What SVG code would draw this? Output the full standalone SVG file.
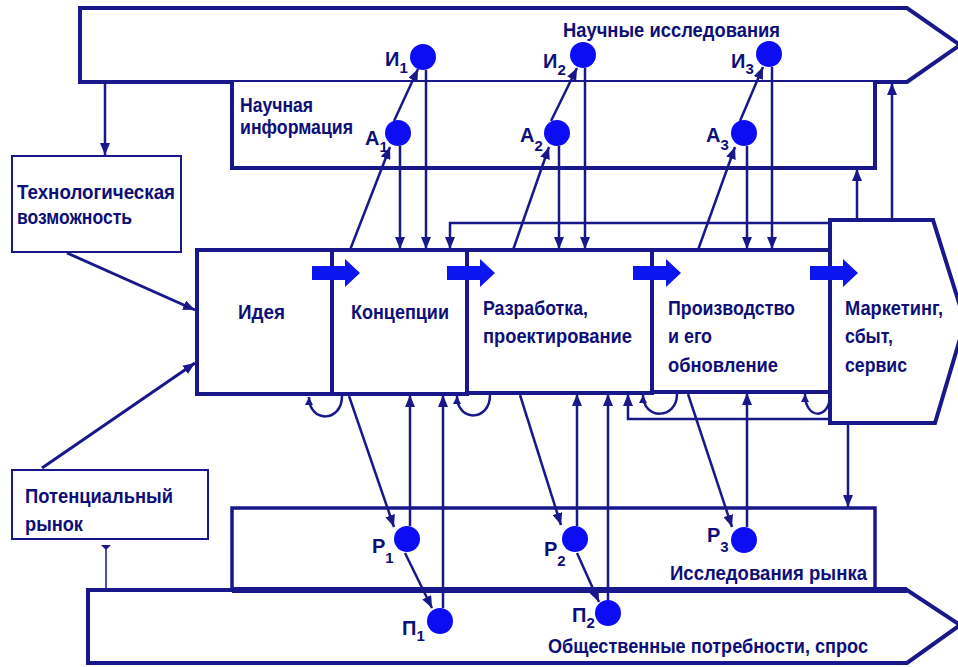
<svg xmlns="http://www.w3.org/2000/svg" width="958" height="667" viewBox="0 0 958 667">
<style>
.t{font-family:"Liberation Sans",Arial,sans-serif;font-weight:bold;font-size:20px;fill:#0e0e78}
.s{font-size:15px}
.box{fill:#fff;stroke:#18188a;stroke-width:4}
.thin{fill:#fff;stroke:#18188a;stroke-width:2}
.c{fill:none;stroke:#18188a;stroke-width:2.5}
.dot{fill:#0c0cf5}
.ba{fill:#0c14f0}
</style>
<defs>
<marker id="ah" markerUnits="userSpaceOnUse" markerWidth="12" markerHeight="10" refX="12" refY="5" orient="auto">
<path d="M0,0 L12,5 L0,10 z" fill="#18188a"/>
</marker>
<marker id="sh" markerUnits="userSpaceOnUse" markerWidth="8" markerHeight="8" refX="8" refY="4" orient="auto">
<path d="M0,0 L8,4 L0,8 z" fill="#18188a"/>
</marker>
</defs>
<rect width="958" height="667" fill="#fff"/>

<g id="science-research">
<path class="box" d="M80,8 L907,8 L960,45 L907,82 L80,82 Z"/>
<text class="t" x="563" y="37" textLength="217" lengthAdjust="spacingAndGlyphs">Научные исследования</text>
</g>
<g id="science-info">
<path class="box" d="M232,82 L232,168 L875,168 L875,82" fill="none"/>
<text class="t" x="240" y="112" textLength="73" lengthAdjust="spacingAndGlyphs">Научная</text>
<text class="t" x="240" y="134" textLength="113" lengthAdjust="spacingAndGlyphs">информация</text>
</g>
<g id="market-research">
<rect class="box" x="232" y="508" width="643" height="83" style="stroke-width:3.5"/>
<text class="t" x="670" y="580" textLength="197" lengthAdjust="spacingAndGlyphs">Исследования рынка</text>
</g>
<g id="social-needs">
<path class="box" d="M88,590 L907,590 L960,625 L907,663 L88,663 Z"/>
<line x1="232" y1="590" x2="907" y2="590" stroke="#18188a" stroke-width="6"/>
<text class="t" x="548" y="653" textLength="320" lengthAdjust="spacingAndGlyphs">Общественные потребности, спрос</text>
</g>
<g id="tech">
<rect class="thin" x="12" y="156" width="169" height="96"/>
<text class="t" x="17" y="199" textLength="158" lengthAdjust="spacingAndGlyphs">Технологическая</text>
<text class="t" x="17" y="224" textLength="115" lengthAdjust="spacingAndGlyphs">возможность</text>
</g>
<g id="potential">
<rect class="thin" x="12" y="470" width="196" height="69"/>
<text class="t" x="25" y="503" textLength="148" lengthAdjust="spacingAndGlyphs">Потенциальный</text>
<text class="t" x="25" y="531" textLength="58" lengthAdjust="spacingAndGlyphs">рынок</text>
</g>
<g id="idea">
<rect class="box" x="197" y="250" width="135" height="144"/>
<text class="t" x="238" y="319" textLength="47" lengthAdjust="spacingAndGlyphs">Идея</text>
</g>
<g id="concept">
<rect class="box" x="332" y="250" width="135" height="144"/>
<text class="t" x="351" y="319" textLength="98" lengthAdjust="spacingAndGlyphs">Концепции</text>
</g>
<g id="design">
<rect class="box" x="467" y="250" width="185" height="143"/>
<text class="t" x="483" y="315" textLength="105" lengthAdjust="spacingAndGlyphs">Разработка,</text>
<text class="t" x="483" y="343" textLength="149" lengthAdjust="spacingAndGlyphs">проектирование</text>
</g>
<g id="production">
<rect class="box" x="652" y="250" width="178" height="142"/>
<text class="t" x="668" y="315" textLength="127" lengthAdjust="spacingAndGlyphs">Производство</text>
<text class="t" x="668" y="343" textLength="44" lengthAdjust="spacingAndGlyphs">и его</text>
<text class="t" x="668" y="372" textLength="110" lengthAdjust="spacingAndGlyphs">обновление</text>
</g>
<g id="marketing">
<path class="box" d="M830,220 L933,220 L965,322 L935,423 L830,423 Z"/>
<text class="t" x="845" y="315" textLength="98" lengthAdjust="spacingAndGlyphs">Маркетинг,</text>
<text class="t" x="845" y="343" textLength="48" lengthAdjust="spacingAndGlyphs">сбыт,</text>
<text class="t" x="845" y="372" textLength="62" lengthAdjust="spacingAndGlyphs">сервис</text>
</g>

<g id="connectors">
<line class="c" x1="105" y1="84" x2="105" y2="155" marker-end="url(#ah)"/>
<line class="c" x1="67" y1="253" x2="195" y2="310" marker-end="url(#ah)" style="stroke-width:3"/>
<line class="c" x1="42" y1="468" x2="195" y2="363" marker-end="url(#ah)" style="stroke-width:3"/>
<line x1="106" y1="547" x2="106" y2="589" stroke="#18188a" stroke-width="1.5"/>
<path d="M101,545 L111,545 L106,550 z" fill="#18188a"/>

<line class="c" x1="426" y1="70" x2="426" y2="249" marker-end="url(#ah)"/>
<line class="c" x1="400" y1="146" x2="400" y2="249" marker-end="url(#ah)"/>
<line class="c" x1="394" y1="121" x2="418" y2="69" marker-end="url(#ah)"/>
<line class="c" x1="350" y1="250" x2="390" y2="147" marker-end="url(#ah)"/>

<line class="c" x1="585" y1="68" x2="585" y2="249" marker-end="url(#ah)"/>
<line class="c" x1="559" y1="146" x2="559" y2="249" marker-end="url(#ah)"/>
<line class="c" x1="551" y1="121" x2="577" y2="68" marker-end="url(#ah)"/>
<line class="c" x1="513" y1="250" x2="549" y2="147" marker-end="url(#ah)"/>

<line class="c" x1="772" y1="67" x2="772" y2="249" marker-end="url(#ah)"/>
<line class="c" x1="747" y1="146" x2="747" y2="249" marker-end="url(#ah)"/>
<line class="c" x1="740" y1="121" x2="763" y2="67" marker-end="url(#ah)"/>
<line class="c" x1="698" y1="250" x2="735" y2="147" marker-end="url(#ah)"/>

<path class="c" d="M830,223 L450,223 L450,249" marker-end="url(#ah)"/>
<line class="c" x1="857" y1="220" x2="857" y2="169" marker-end="url(#ah)"/>
<line class="c" x1="892" y1="220" x2="892" y2="83" marker-end="url(#ah)"/>

<path class="c" d="M342,396 C342,423 309,423 309,397" marker-end="url(#sh)"/>
<path class="c" d="M490,395 C490,422 457,422 457,396" marker-end="url(#sh)"/>
<path class="c" d="M677,394 C677,420 643,420 643,395" marker-end="url(#sh)"/>
<path class="c" d="M830,395 C830,420 805,420 805,394" marker-end="url(#sh)"/>

<line class="c" x1="349" y1="396" x2="394" y2="527" marker-end="url(#ah)"/>
<line class="c" x1="410" y1="526" x2="410" y2="395" marker-end="url(#ah)"/>
<line class="c" x1="443" y1="608" x2="443" y2="395" marker-end="url(#ah)"/>
<line class="c" x1="405" y1="553" x2="432" y2="608" marker-end="url(#ah)"/>

<line class="c" x1="520" y1="395" x2="561" y2="525" marker-end="url(#ah)"/>
<line class="c" x1="577" y1="526" x2="577" y2="394" marker-end="url(#ah)"/>
<line class="c" x1="608" y1="600" x2="608" y2="394" marker-end="url(#ah)"/>
<line class="c" x1="577" y1="553" x2="599" y2="602" marker-end="url(#ah)"/>

<line class="c" x1="688" y1="394" x2="732" y2="527" marker-end="url(#ah)"/>
<line class="c" x1="747" y1="527" x2="747" y2="393" marker-end="url(#ah)"/>

<path class="c" d="M830,419 L628,419 L628,394" marker-end="url(#ah)"/>
<line class="c" x1="848" y1="424" x2="848" y2="507" marker-end="url(#ah)"/>

<path class="ba" d="M312,266 L345,266 L345,259 L360,273 L345,287 L345,280 L312,280 Z"/>
<path class="ba" d="M447,266 L480,266 L480,259 L495,273 L480,287 L480,280 L447,280 Z"/>
<path class="ba" d="M633,266 L666,266 L666,259 L681,273 L666,287 L666,280 L633,280 Z"/>
<path class="ba" d="M810,266 L843,266 L843,259 L858,273 L843,287 L843,280 L810,280 Z"/>
</g>

<g id="I1"><circle class="dot" cx="423" cy="57" r="13"/><text class="t" x="385" y="66">И<tspan class="s" dy="7">1</tspan></text></g>
<g id="A1"><circle class="dot" cx="398" cy="133" r="13"/><text class="t" x="365" y="145">А<tspan class="s" dy="7">1</tspan></text></g>
<g id="I2"><circle class="dot" cx="583" cy="55" r="13"/><text class="t" x="543" y="68">И<tspan class="s" dy="7">2</tspan></text></g>
<g id="A2"><circle class="dot" cx="557" cy="133" r="13"/><text class="t" x="520" y="142">А<tspan class="s" dy="9">2</tspan></text></g>
<g id="I3"><circle class="dot" cx="769" cy="54" r="13"/><text class="t" x="731" y="68">И<tspan class="s" dy="6">3</tspan></text></g>
<g id="A3"><circle class="dot" cx="744" cy="133" r="13"/><text class="t" x="706" y="142">А<tspan class="s" dy="8">3</tspan></text></g>
<g id="R1"><circle class="dot" cx="407" cy="539" r="13"/><text class="t" x="372" y="553">Р<tspan class="s" dy="10">1</tspan></text></g>
<g id="P1"><circle class="dot" cx="440" cy="621" r="13"/><text class="t" x="402" y="635">П<tspan class="s" dy="6">1</tspan></text></g>
<g id="R2"><circle class="dot" cx="575" cy="539" r="13"/><text class="t" x="544" y="556">Р<tspan class="s" dy="10">2</tspan></text></g>
<g id="P2"><circle class="dot" cx="608" cy="613" r="13"/><text class="t" x="572" y="622">П<tspan class="s" dy="6">2</tspan></text></g>
<g id="R3"><circle class="dot" cx="744" cy="540" r="13"/><text class="t" x="707" y="542">Р<tspan class="s" dy="10">3</tspan></text></g>
</svg>
